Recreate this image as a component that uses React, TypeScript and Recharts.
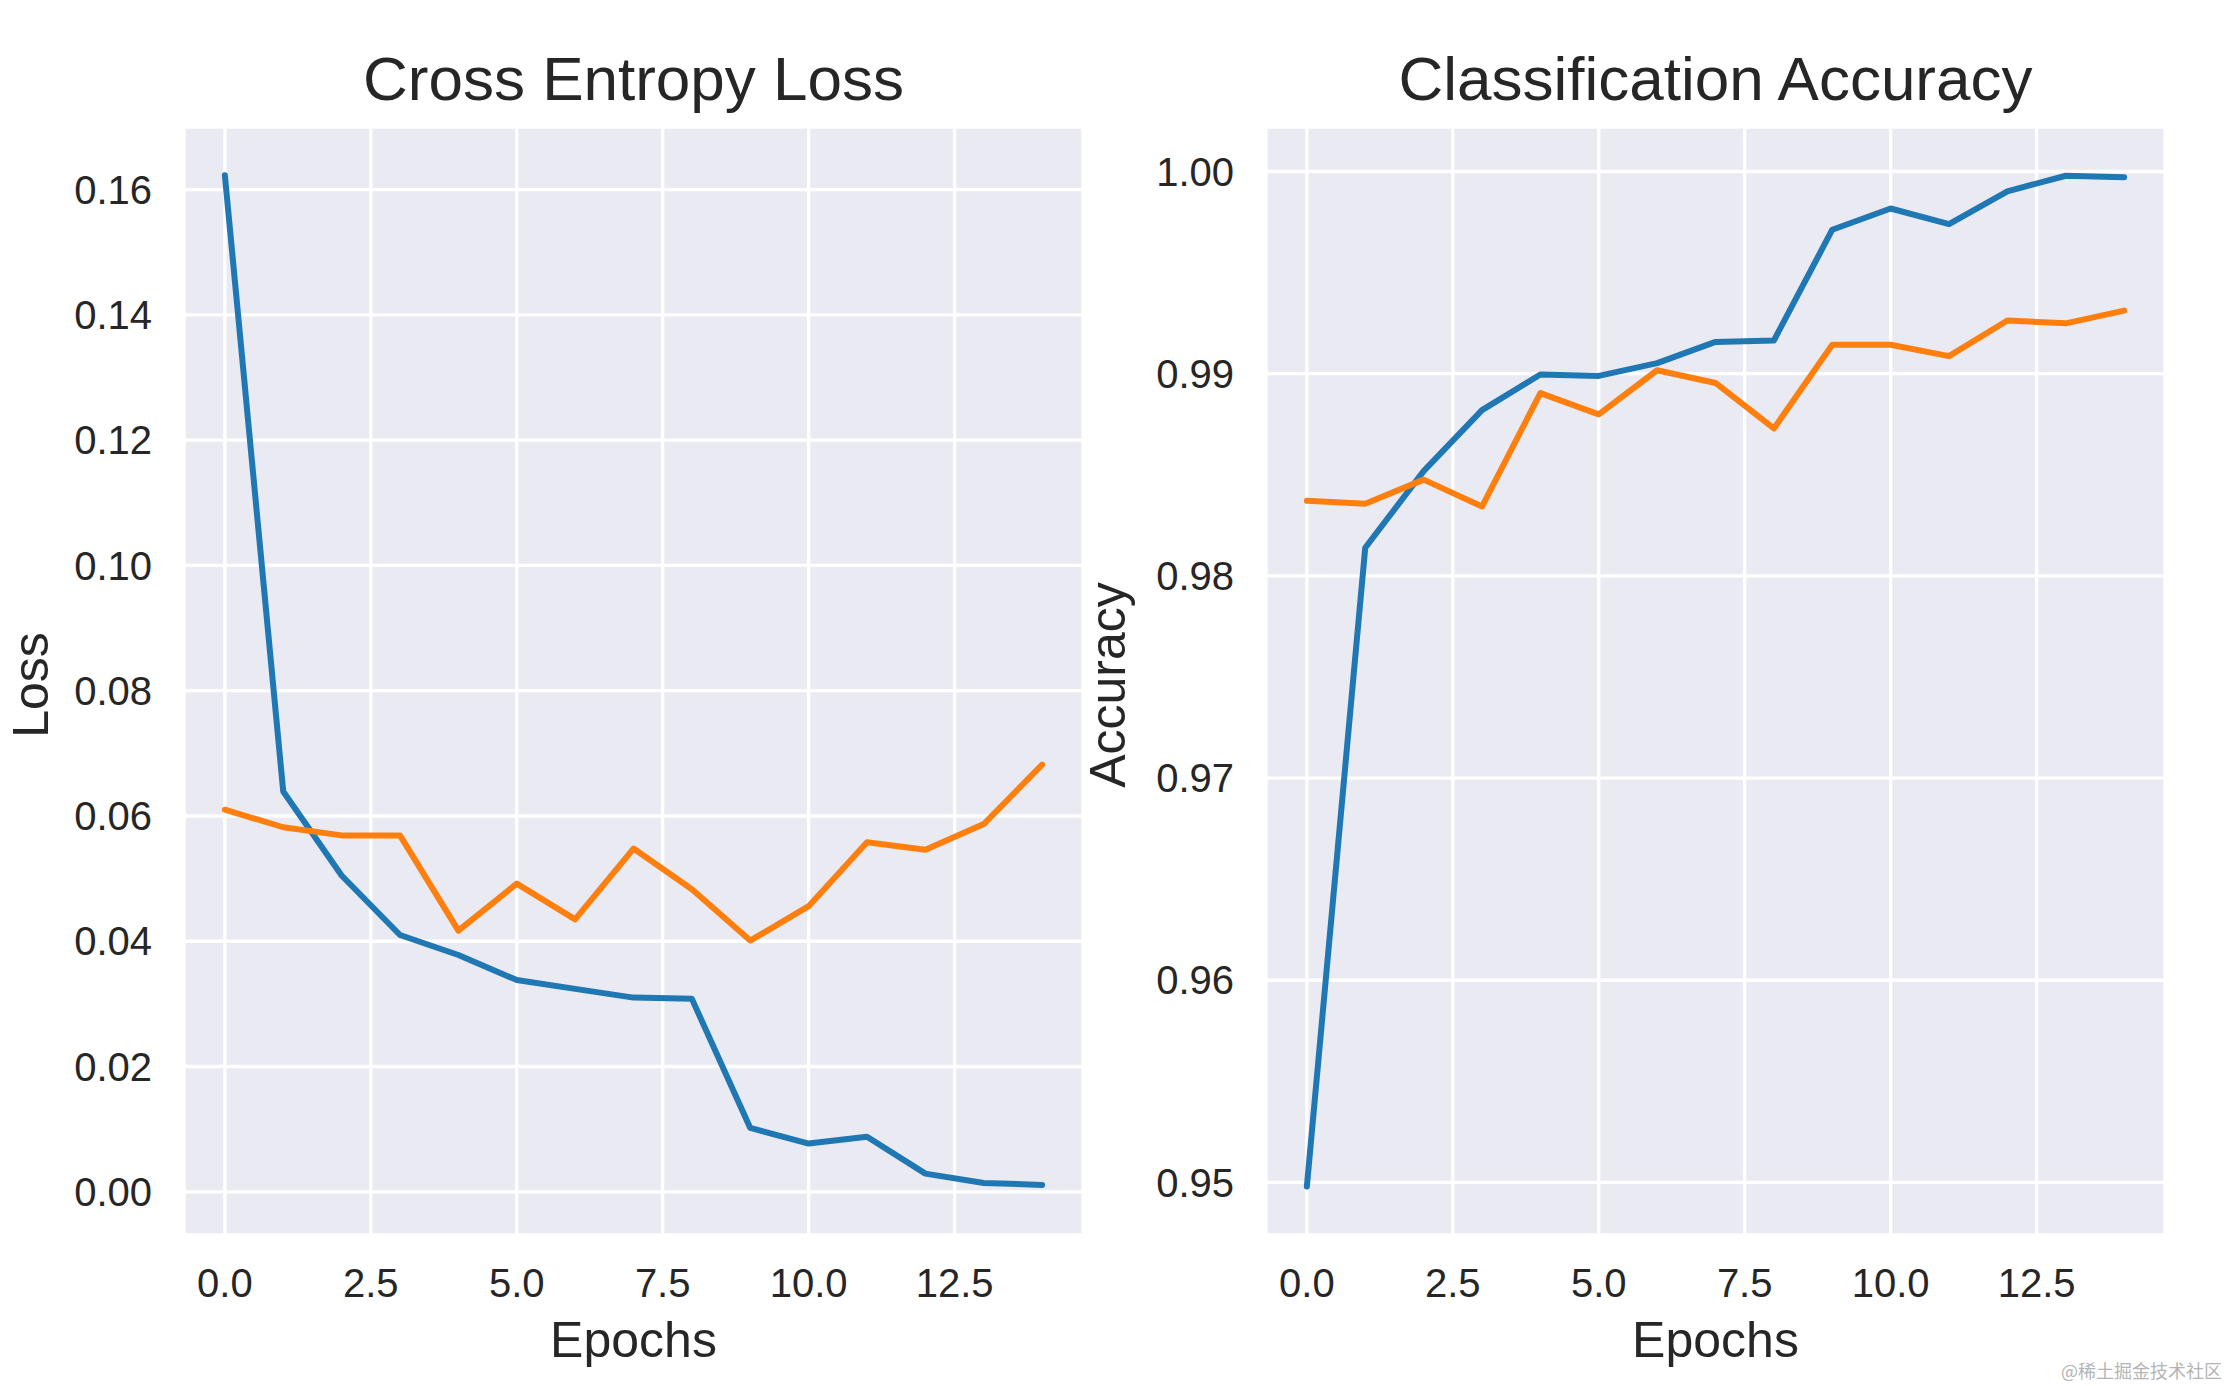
import React from 'react';
import { CartesianGrid, Label, Line, LineChart, XAxis, YAxis } from 'recharts';

// epochs and values
const epochs = [0, 1, 2, 3, 4, 5, 6, 7, 8, 9, 10, 11, 12, 13, 14];
const trainLoss = [0.1623, 0.0639, 0.0505, 0.041, 0.0378, 0.0338, 0.0324, 0.031, 0.0308, 0.0102, 0.0077, 0.0088, 0.0029, 0.0014, 0.0011];
const valLoss = [0.061, 0.0582, 0.0569, 0.0569, 0.0417, 0.0492, 0.0435, 0.0548, 0.0483, 0.0401, 0.0456, 0.0558, 0.0546, 0.0587, 0.0682];
const trainAcc = [0.9498, 0.98139, 0.98518, 0.9882, 0.98996, 0.98989, 0.99052, 0.99157, 0.99164, 0.99712, 0.99817, 0.9974, 0.99902, 0.99979, 0.99972];
const valAcc = [0.98371, 0.98357, 0.98476, 0.98343, 0.98904, 0.98799, 0.99017, 0.98954, 0.98729, 0.99143, 0.99143, 0.99087, 0.99263, 0.99249, 0.99312];

const xTicks = [0, 2.5, 5, 7.5, 10, 12.5];
const lossTicks = [0, 0.02, 0.04, 0.06, 0.08, 0.1, 0.12, 0.14, 0.16];
const accTicks = [0.95, 0.96, 0.97, 0.98, 0.99, 1.0];

const lossData = epochs.map((e, i) => ({ epoch: e, train: trainLoss[i], val: valLoss[i] }));
const accData = epochs.map((e, i) => ({ epoch: e, train: trainAcc[i], val: valAcc[i] }));

const FONT = '"Liberation Sans", Arial, sans-serif';
const INK = '#262626';
const BLUE = '#1f77b4';
const ORANGE = '#ff7f0e';

const tickStyle = { fontFamily: FONT, fontSize: 40, fill: INK };

const XLabel = ({ viewBox }: any) => (
  <text
    x={viewBox.x + viewBox.width / 2}
    y={viewBox.y + 122}
    textAnchor="middle"
    fontFamily={FONT}
    fontSize={50}
    fill={INK}
  >
    Epochs
  </text>
);

const makeYLabel = (text: string, bx: number) => ({ viewBox }: any) => {
  const cy = viewBox.y + viewBox.height / 2 + 4;
  return (
    <text
      x={bx}
      y={cy}
      transform={`rotate(-90, ${bx}, ${cy})`}
      textAnchor="middle"
      fontFamily={FONT}
      fontSize={50}
      fill={INK}
    >
      {text}
    </text>
  );
};

function Panel({ data, width, yWidth, rightMargin, domain, ticks, label, labelX }: any) {
  return (
    <LineChart width={width} height={1386} data={data} margin={{ top: 127, right: rightMargin, bottom: 0, left: 0 }}>
      <CartesianGrid fill="#EAEAF2" stroke="#ffffff" strokeWidth={3.3} />
      <XAxis
        dataKey="epoch"
        type="number"
        domain={[-0.7, 14.7]}
        ticks={xTicks}
        allowDataOverflow
        height={151}
        axisLine={false}
        tickLine={false}
        tickSize={0}
        tickMargin={34}
        tick={tickStyle}
        tickFormatter={(v: number) => v.toFixed(1)}
      >
        <Label content={<XLabel />} />
      </XAxis>
      <YAxis
        type="number"
        domain={domain}
        ticks={ticks}
        allowDataOverflow
        width={yWidth}
        axisLine={false}
        tickLine={false}
        tickSize={0}
        tickMargin={32}
        tick={tickStyle}
        tickFormatter={(v: number) => v.toFixed(2)}
      >
        <Label content={makeYLabel(label, labelX)} />
      </YAxis>
      <Line type="linear" dataKey="train" stroke={BLUE} strokeWidth={6} dot={false} strokeLinecap="round" strokeLinejoin="round" isAnimationActive={false} />
      <Line type="linear" dataKey="val" stroke={ORANGE} strokeWidth={6} dot={false} strokeLinecap="round" strokeLinejoin="round" isAnimationActive={false} />
    </LineChart>
  );
}

const titleStyle: React.CSSProperties = {
  position: 'absolute',
  top: 48,
  fontFamily: FONT,
  fontSize: 62,
  lineHeight: '62px',
  color: INK,
  textAlign: 'center',
  whiteSpace: 'nowrap',
};

export default function App() {
  return (
    <div style={{ position: 'absolute', left: 0, top: 0, width: 2229, height: 1386, background: '#fff', overflow: 'hidden' }}>
      <div style={{ ...titleStyle, left: 184, width: 899 }}>Cross Entropy Loss</div>
      <div style={{ ...titleStyle, left: 1266, width: 899 }}>Classification Accuracy</div>

      <div style={{ position: 'absolute', left: 0, top: 0 }}>
        <Panel data={lossData} width={1083} yWidth={184} rightMargin={0} domain={[-0.0069, 0.17]} ticks={lossTicks} label="Loss" labelX={48} />
      </div>
      <div style={{ position: 'absolute', left: 1050, top: 0 }}>
        <Panel data={accData} width={1179} yWidth={216} rightMargin={64} domain={[0.9474, 1.0022]} ticks={accTicks} label="Accuracy" labelX={75} />
      </div>

      <div
        style={{
          position: 'absolute',
          right: 7,
          top: 1360,
          fontFamily: '"Noto Sans CJK SC", sans-serif',
          fontSize: 18,
          lineHeight: '20px',
          color: '#b4b4b4',
          whiteSpace: 'nowrap',
        }}
      >
        @稀土掘金技术社区
      </div>
    </div>
  );
}
